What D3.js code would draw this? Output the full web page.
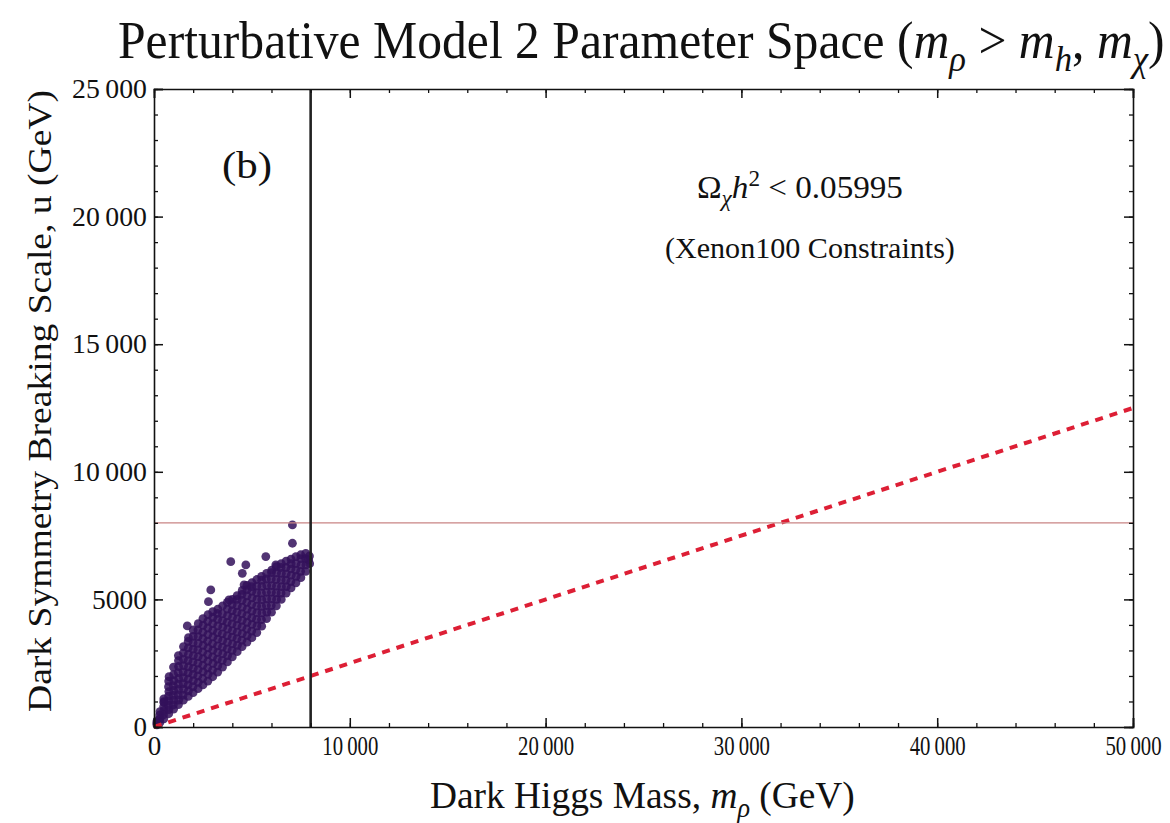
<!DOCTYPE html>
<html>
<head>
<meta charset="utf-8">
<script src="https://cdn.jsdelivr.net/npm/d3@7"></script>
<style>
  body { margin: 0; background: #fff; }
  svg text { font-family: "Liberation Serif", "DejaVu Serif", serif; fill: #111; }
</style>
</head>
<body>
<svg id="chart" width="1170" height="823"></svg>
<script>
// axis ranges and ticks
const xDomain = [0, 50000]
const yDomain = [0, 25000]
const xMajor = [0, 10000, 20000, 30000, 40000, 50000]
const yMajor = [0, 5000, 10000, 15000, 20000, 25000]
const xMinorStep = 2000
const yMinorStep = 1000

// constraint lines
const mRhoCut = 8000        // vertical black line
const uCut = 8000           // horizontal thin line
const dashLine = [[0, 0], [50000, 12500]]

// scan points [m_rho (GeV), u (GeV)], column by column
const scanPoints = [
  [150,80],[140,170],[160,250],
  [300,180],[310,330],[290,470],[305,600],
  [500,320],[490,480],[510,640],[495,800],[505,960],[500,1100],
  [750,520],[760,680],[740,860],[755,1030],[745,1210],[760,1390],[740,1580],[750,1800],
  [1000,700],[990,870],[1010,1050],[995,1240],[1005,1430],[990,1620],[1010,1820],[1000,2050],[995,2350],
  [1250,880],[1260,1050],[1240,1260],[1255,1470],[1245,1680],[1260,1900],[1240,2130],[1255,2370],[1250,2600],[1245,2800],
  [1500,1050],[1490,1250],[1510,1480],[1495,1700],[1505,1930],[1490,2160],[1510,2400],[1500,2650],[1495,2900],[1505,3150],
  [1750,1200],[1760,1420],[1740,1650],[1755,1880],[1745,2120],[1760,2360],[1740,2600],[1755,2850],[1750,3100],[1745,3350],[1760,3500],
  [2000,1350],[1990,1580],[2010,1820],[1995,2060],[2005,2300],[1990,2550],[2010,2800],[2000,3050],[1995,3300],[2005,3550],[2000,3800],
  [2250,1500],[2260,1750],[2240,2000],[2255,2250],[2245,2500],[2260,2760],[2240,3020],[2255,3280],[2250,3540],[2245,3800],[2260,4050],
  [2500,1650],[2490,1900],[2510,2160],[2495,2420],[2505,2680],[2490,2940],[2510,3200],[2500,3460],[2495,3720],[2505,3980],[2500,4250],
  [2750,1800],[2760,2060],[2740,2320],[2755,2580],[2745,2840],[2760,3100],[2740,3360],[2755,3620],[2750,3880],[2745,4140],[2760,4400],
  [3000,1970],[2990,2230],[3010,2490],[2995,2750],[3005,3010],[2990,3270],[3010,3530],[3000,3790],[2995,4050],[3005,4300],[3000,4520],
  [3250,2150],[3260,2400],[3240,2660],[3255,2920],[3245,3180],[3260,3440],[3240,3700],[3255,3960],[3250,4220],[3245,4450],[3260,4620],
  [3500,2350],[3490,2610],[3510,2870],[3495,3130],[3505,3390],[3490,3650],[3510,3910],[3500,4170],[3495,4430],[3505,4750],
  [3750,2550],[3760,2800],[3740,3060],[3755,3320],[3745,3580],[3760,3840],[3740,4100],[3755,4360],[3750,4620],[3745,4880],
  [4000,2750],[3990,3000],[4010,3260],[3995,3520],[4005,3780],[3990,4040],[4010,4300],[4000,4560],[3995,4800],[4005,5000],
  [4250,2950],[4260,3200],[4240,3460],[4255,3720],[4245,3980],[4260,4240],[4240,4500],[4255,4760],[4250,5000],[4245,5150],
  [4500,3150],[4490,3400],[4510,3660],[4495,3920],[4505,4180],[4490,4440],[4510,4700],[4500,4960],[4495,5200],[4505,5350],
  [4750,3330],[4760,3580],[4740,3840],[4755,4100],[4745,4360],[4760,4620],[4740,4880],[4755,5140],[4750,5380],[4745,5550],
  [5000,3500],[4990,3760],[5010,4020],[4995,4280],[5005,4540],[4990,4800],[5010,5060],[5000,5320],[4995,5500],[5005,5660],
  [5250,3700],[5260,3960],[5240,4220],[5255,4480],[5245,4740],[5260,5000],[5240,5260],[5255,5520],[5250,5780],
  [5500,3950],[5490,4210],[5510,4470],[5495,4730],[5505,4990],[5490,5250],[5510,5510],[5500,5750],[5495,5900],
  [5750,4250],[5760,4500],[5740,4760],[5755,5020],[5745,5280],[5760,5540],[5740,5800],[5750,6020],
  [6000,4500],[5990,4760],[6010,5020],[5995,5280],[6005,5540],[5990,5800],[6000,6050],[6010,6150],
  [6250,4750],[6260,5000],[6240,5260],[6255,5520],[6245,5780],[6260,6040],[6250,6280],
  [6500,5000],[6490,5250],[6510,5500],[6495,5760],[6505,6020],[6490,6250],[6500,6400],
  [6750,5250],[6760,5500],[6740,5750],[6755,6000],[6745,6250],[6750,6500],
  [7000,5450],[6990,5700],[7010,5950],[6995,6200],[7005,6400],[7000,6580],
  [7250,5650],[7260,5900],[7240,6150],[7255,6400],[7250,6680],
  [7500,5850],[7490,6100],[7510,6350],[7500,6600],[7495,6750],
  [7750,6100],[7760,6350],[7740,6600],[7750,6800],
  [7950,6400],[7940,6700],[7900,6550],
  // scattered points outside the dense band
  [510,990],[770,1970],[1700,3960],[2780,4910],[2900,5370],[3830,4980],
  [3920,6480],[4690,6350],[4510,6020],[4600,5570],[5710,6680],[6220,6350],
  [7070,7200],[7070,7920]
]

const title = [
  {t: "Perturbative Model 2 Parameter Space ("},
  {t: "m", i: true}, {t: "ρ", i: true, sub: true},
  {t: " > "},
  {t: "m", i: true}, {t: "h", i: true, sub: true},
  {t: ", "},
  {t: "m", i: true}, {t: "χ", i: true, sub: true},
  {t: ")"}
]

const svg = d3.select("#chart")
const margin = {left: 154, right: 37, top: 89, bottom: 96}
const W = 1170, H = 823

const x = d3.scaleLinear().domain(xDomain).range([margin.left, W - margin.right])
const y = d3.scaleLinear().domain(yDomain).range([H - margin.bottom, margin.top])

// writes a run of text pieces with italics / sub / superscripts
function richText(sel, runs, size) {
  let shift = 0
  runs.forEach(r => {
    const ts = sel.append("tspan").text(r.t)
    if (r.i) ts.attr("font-style", "italic")
    let want = 0
    if (r.sub) { ts.attr("font-size", size * 0.7); want = size * 0.25 }
    if (r.sup) { ts.attr("font-size", size * 0.7); want = -size * 0.38 }
    if (want - shift !== 0) ts.attr("dy", want - shift)
    shift = want
  })
}

// squeeze / stretch a text horizontally so it spans [x0, x1]
function fitTo(sel, x0, x1) {
  const b = sel.node().getBBox()
  const k = (x1 - x0) / b.width
  sel.attr("transform", `translate(${x0},0) scale(${k},1) translate(${-b.x},0)`)
}

// scatter
svg.append("g")
  .selectAll("circle")
  .data(scanPoints)
  .join("circle")
    .attr("cx", d => x(d[0]))
    .attr("cy", d => y(d[1]))
    .attr("r", 4.4)
    .attr("fill", "#33105a")
    .attr("fill-opacity", 0.85)

// dashed line
svg.append("line")
  .attr("x1", x(dashLine[0][0])).attr("y1", y(dashLine[0][1]))
  .attr("x2", x(dashLine[1][0])).attr("y2", y(dashLine[1][1]))
  .attr("stroke", "#dd1f35")
  .attr("stroke-width", 4)
  .attr("stroke-dasharray", "8,7")

// horizontal cut
svg.append("line")
  .attr("x1", x(0)).attr("x2", x(xDomain[1]))
  .attr("y1", y(uCut)).attr("y2", y(uCut))
  .attr("stroke", "#c98484")
  .attr("stroke-width", 1.3)

// vertical cut
svg.append("line")
  .attr("x1", x(mRhoCut)).attr("x2", x(mRhoCut))
  .attr("y1", y(0)).attr("y2", y(yDomain[1]))
  .attr("stroke", "#222")
  .attr("stroke-width", 2.6)

// frame + ticks
const xMinor = d3.range(xDomain[0], xDomain[1] + 1, xMinorStep)
const yMinor = d3.range(yDomain[0], yDomain[1] + 1, yMinorStep)
const fmt = v => v >= 10000 ? d3.format("d")(v).replace(/(\d{2})(\d{3})$/, "$1\u2009$2") : String(v)

const axes = [
  {axis: d3.axisBottom(x), tr: `translate(0,${y(0)})`, minor: xMinor, major: xMajor, labels: true, pad: 9},
  {axis: d3.axisTop(x), tr: `translate(0,${y(yDomain[1])})`, minor: xMinor, major: xMajor, labels: false, pad: 9},
  {axis: d3.axisLeft(y), tr: `translate(${x(0)},0)`, minor: yMinor, major: yMajor, labels: true, pad: 7},
  {axis: d3.axisRight(y), tr: `translate(${x(xDomain[1])},0)`, minor: yMinor, major: yMajor, labels: false, pad: 7}
]
axes.forEach(a => {
  const g = svg.append("g").attr("transform", a.tr)
  g.call(a.axis.tickValues(a.minor).tickSize(-4).tickFormat(""))
  g.select(".domain").remove()
  const g2 = svg.append("g").attr("transform", a.tr)
  g2.call(a.axis.tickValues(a.major).tickSize(-9).tickPadding(a.pad).tickFormat(a.labels ? fmt : ""))
  g2.select(".domain").attr("stroke", "#111").attr("stroke-width", 1.6)
  g2.selectAll("text").attr("font-size", 27).attr("font-family", "Liberation Serif").attr("fill", "#111")
  g.selectAll("line").attr("stroke", "#111").attr("stroke-width", 1.3)
  g2.selectAll("line").attr("stroke", "#111").attr("stroke-width", 1.5)
  if (!a.labels) return
  if (a.major === xMajor) {
    // x labels in the reference are narrow
    g2.selectAll("text").filter(d => d >= 10000).attr("transform", "scale(0.77,1)")
  } else {
    // y labels are wide
    g2.selectAll("text").filter(d => d > 0)
      .attr("textLength", d => d >= 10000 ? 75 : 55).attr("lengthAdjust", "spacingAndGlyphs")
  }
})

// title
const tt = svg.append("text").attr("x", 0).attr("y", 58).attr("font-size", 52)
richText(tt, title, 52)
fitTo(tt, 118, 1165)

// axis labels
const xl = svg.append("text").attr("x", 0).attr("y", 808).attr("font-size", 38)
richText(xl, [{t: "Dark Higgs Mass, "}, {t: "m", i: true}, {t: "ρ", i: true, sub: true}, {t: " (GeV)"}], 38)
fitTo(xl, 430, 855)

const yl = svg.append("text")
  .attr("x", -401).attr("y", 51)
  .attr("transform", "rotate(-90)")
  .attr("text-anchor", "middle").attr("font-size", 34)
  .text("Dark Symmetry Breaking Scale, u (GeV)")
yl.attr("textLength", 622).attr("lengthAdjust", "spacingAndGlyphs")

// annotations
const bl = svg.append("text").attr("x", 0).attr("y", 178).attr("font-size", 38).text("(b)")
fitTo(bl, 222, 272)

const om = svg.append("text").attr("x", 0).attr("y", 198).attr("font-size", 32)
richText(om, [{t: "Ω"}, {t: "χ", i: true, sub: true}, {t: "h", i: true}, {t: "2", sup: true}, {t: " < 0.05995"}], 32)
fitTo(om, 697, 903)

const xe = svg.append("text").attr("x", 0).attr("y", 258).attr("font-size", 30)
  .text("(Xenon100 Constraints)")
fitTo(xe, 665, 955)
</script>
</body>
</html>
